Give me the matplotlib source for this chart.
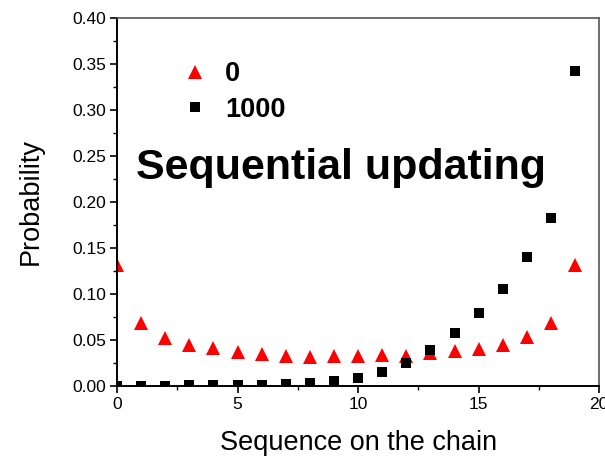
import matplotlib
matplotlib.use("Agg")
import matplotlib.pyplot as plt
from matplotlib.ticker import MultipleLocator, FormatStrFormatter

plt.rcParams['font.family'] = ['Liberation Sans', 'DejaVu Sans']

seq = list(range(20))
prob_0 = [0.131, 0.068, 0.052, 0.045, 0.041, 0.037, 0.035, 0.033, 0.032, 0.033,
          0.033, 0.034, 0.033, 0.036, 0.038, 0.040, 0.045, 0.053, 0.068, 0.132]
prob_1000 = [0.0002, 0.0003, 0.0005, 0.0007, 0.0009, 0.0012, 0.0016, 0.0022, 0.003, 0.005,
             0.0085, 0.015, 0.025, 0.039, 0.058, 0.079, 0.105, 0.140, 0.183, 0.342]
series_labels = ['0', '1000']
annotation = 'Sequential updating'

fig = plt.figure(figsize=(6.05, 4.59), dpi=100)
ax = fig.add_axes([0.1934, 0.159, 0.797, 0.802])

ax.plot(seq, prob_0, linestyle='none', marker='^', color='#ff0000', markersize=10,
        markeredgewidth=0, label=series_labels[0])
ax.plot(seq, prob_1000, linestyle='none', marker='s', color='black', markersize=7.5,
        markeredgewidth=0, label=series_labels[1])

ax.set_xlim(0, 20)
ax.set_ylim(0, 0.40)
ax.xaxis.set_major_locator(MultipleLocator(5))
ax.xaxis.set_minor_locator(MultipleLocator(2.5))
ax.yaxis.set_major_locator(MultipleLocator(0.05))
ax.yaxis.set_minor_locator(MultipleLocator(0.025))
ax.yaxis.set_major_formatter(FormatStrFormatter('%.2f'))
ax.tick_params(which='major', direction='out', length=5, width=1.2, labelsize=12.5,
               top=False, right=False, pad=3)
ax.tick_params(which='minor', direction='out', length=3, width=1.0, top=False, right=False)

for s in ['left', 'bottom']:
    ax.spines[s].set_linewidth(1.4)
    ax.spines[s].set_color('black')
for s in ['top', 'right']:
    ax.spines[s].set_linewidth(1.2)
    ax.spines[s].set_color('#555555')

ax.set_xlabel('Sequence on the chain', fontsize=19.5, labelpad=13)
ax.set_ylabel('Probability', fontsize=19.5, labelpad=20)

leg = ax.legend(loc='upper left', bbox_to_anchor=(0.084, 0.949), frameon=False,
                prop={'weight': 'bold', 'size': 19.5}, handletextpad=0.6,
                labelspacing=0.35, handlelength=1.0, markerscale=1.0)
leg.legend_handles[1].set_markersize(6.5)

ax.text(0.039, 0.5625, annotation, transform=ax.transAxes, fontsize=31,
        fontweight='bold', va='baseline', ha='left')

fig.savefig('out.png', dpi=100)
